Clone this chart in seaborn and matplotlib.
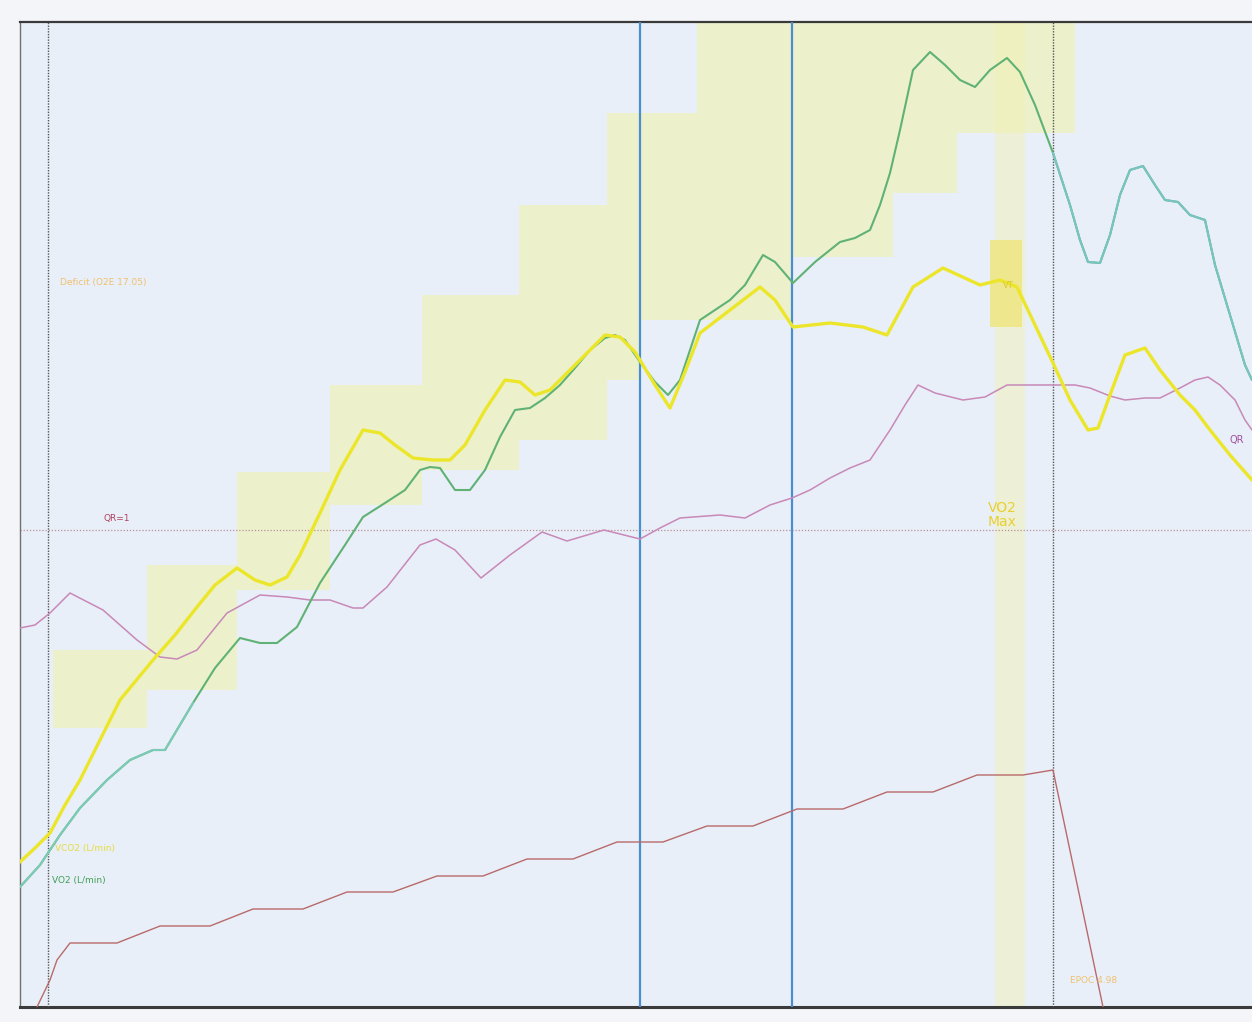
import numpy as np
import pandas as pd
import matplotlib
matplotlib.use("Agg")
import matplotlib.pyplot as plt
import seaborn as sns

# ---------------- data (time in s, signals in chart units) ----------------
vo2_t = [0, 20, 40, 60, 87, 110, 133, 145, 173, 195, 220, 240, 257, 277, 300, 325, 343, 365,
         385, 400, 410, 420, 435, 450, 465, 480, 495, 510, 525, 540, 555, 570, 585, 595, 605,
         620, 635, 648, 660, 680, 710, 725, 743, 755, 773, 795, 820, 835, 850, 860, 870, 880,
         893, 910, 925, 940, 955, 970, 987, 1000, 1015, 1033, 1050, 1060, 1068, 1080, 1090,
         1100, 1110, 1123, 1135, 1145, 1158, 1170, 1185, 1195, 1210, 1225, 1232]
vo2_v = [120, 142, 172, 199, 227, 247, 257, 257, 304, 339, 369, 364, 364, 380, 424, 462, 490, 504,
         517, 537, 540, 539, 517, 517, 537, 570, 597, 599, 609, 622, 639, 657, 669, 672, 667,
         645, 625, 612, 627, 687, 707, 722, 752, 745, 724, 745, 765, 769, 777, 802, 834, 877,
         937, 955, 942, 927, 920, 937, 949, 935, 902, 854, 802, 767, 745, 744, 772,
         812, 837, 841, 822, 807, 805, 792, 787, 742, 692, 642, 627]

vco2_t = [0, 15, 30, 45, 60, 80, 100, 133, 155, 177, 195, 217, 235, 250, 267, 280, 300, 320, 343,
          360, 375, 393, 413, 430, 445, 465, 485, 500, 515, 530, 545, 565, 585, 600, 615, 635,
          650, 665, 680, 710, 740, 755, 773, 810, 843, 867, 893, 923, 960, 980, 997, 1015,
          1033, 1050, 1068, 1078, 1090, 1105, 1125, 1140, 1160, 1175, 1190, 1210, 1232]
vco2_v = [145, 159, 174, 202, 227, 267, 307, 347, 372, 400, 422, 439, 427, 422, 430, 452, 494, 537, 577,
          574, 562, 549, 547, 547, 562, 597, 627, 625, 612, 617, 632, 652, 672, 670, 655, 622,
          599, 635, 674, 697, 720, 707, 680, 684, 680, 672, 720, 739, 722, 727, 720, 682,
          644, 607, 577, 579, 612, 652, 659, 637, 612, 597, 577, 552, 527]

qr_t = [0, 15, 30, 50, 83, 117, 140, 157, 177, 207, 240, 267, 290, 310, 333, 343, 367, 400, 416,
        435, 461, 490, 522, 547, 584, 620, 640, 660, 700, 725, 750, 772, 790, 810, 830, 850, 870,
        885, 898, 915, 943, 965, 987, 1033, 1055, 1070, 1090, 1105, 1125, 1140, 1160, 1175,
        1188, 1200, 1215, 1225, 1232]
qr_v = [379, 382, 394, 414, 397, 367, 350, 348, 357, 394, 412, 410, 407, 407, 399, 399, 420, 462, 468,
        457, 429, 452, 475, 466, 477, 468, 479, 489, 492, 489, 502, 509, 517, 529, 539, 547, 577,
        602, 622, 614, 607, 610, 622, 622, 622, 619, 611, 607, 609, 609, 619, 627,
        630, 622, 607, 587, 577]

load_t = [17, 30, 37, 50, 97, 140, 190, 233, 283, 327, 373, 417, 463, 507, 553, 597, 643, 687,
          733, 777, 823, 867, 913, 957, 1003, 1033, 1083]
load_v = [0, 27, 47, 64, 64, 81, 81, 98, 98, 115, 115, 131, 131, 148, 148, 165, 165, 181,
          181, 198, 198, 215, 215, 232, 232, 237, 0]

# O2 deficit staircase (stage edges, upper and lower bound per stage)
deficit_edges = [33, 127, 217, 310, 402, 499, 587, 620, 677, 773, 873, 937, 1033, 1055]
deficit_top = [357, 442, 535, 622, 712, 802, 894, 894, 985, 985, 985, 985, 985]
deficit_bottom = [279, 317, 417, 502, 537, 567, 627, 687, 687, 750, 814, 874, 874]

# events
test_start = 28
vt1_time = 620
vt2_time = 772
test_end = 1033
qr_one = 477
vo2max_window = (975, 1005)
vo2max_box = (970, 1002, 680, 767)

labels = {
    "deficit": "Deficit (O2E 17.05)",
    "qr1": "QR=1",
    "vco2": "VCO2 (L/min)",
    "vo2": "VO2 (L/min)",
    "vo2max": "VO2\nMax",
    "epoc": "EPOC 4.98",
    "qr": "QR",
    "vt": "VT",
}

# ---------------- figure ----------------
sns.set_theme(style="white")
plt.rcParams["font.family"] = ["DejaVu Sans"]

fig = plt.figure(figsize=(12.52, 10.22), dpi=100, facecolor="#f3f5f9")
ax = fig.add_axes([20 / 1252, 15 / 1022, 1232 / 1252, 985 / 1022])
ax.set_facecolor("#e9eff8")
ax.set_xlim(0, 1232)
ax.set_ylim(0, 985)

# deficit staircase
xs = np.array(deficit_edges, dtype=float)
tops = np.array(deficit_top + [deficit_top[-1]], dtype=float)
bots = np.array(deficit_bottom + [deficit_bottom[-1]], dtype=float)
ax.fill_between(xs, bots, tops, step="post", color="#eff3b0", alpha=0.6, lw=0, zorder=1)

# VO2 max window
ax.axvspan(*vo2max_window, color="#f2f2b0", alpha=0.45, lw=0, zorder=1)
bx0, bx1, by0, by1 = vo2max_box
ax.fill_between([bx0, bx1], [by0, by0], [by1, by1], color="#f0e680", alpha=0.85, lw=0, zorder=2)

# reference lines
ax.axhline(qr_one, color="#b89098", lw=0.9, ls=(0, (1, 1.5)), zorder=2)
for xv in (test_start, test_end):
    ax.axvline(xv, color="#555555", lw=1.0, ls=(0, (1, 1)), zorder=3)
for xv in (vt1_time, vt2_time):
    ax.axvline(xv, color="#4a8ed0", lw=1.6, zorder=3)

# series
df_load = pd.DataFrame({"t": load_t, "v": load_v})
df_qr = pd.DataFrame({"t": qr_t, "v": qr_v})
df_vco2 = pd.DataFrame({"t": vco2_t, "v": vco2_v})
df_vo2 = pd.DataFrame({"t": vo2_t, "v": vo2_v})

sns.lineplot(data=df_load, x="t", y="v", ax=ax, color="#b86a6a", lw=1.0, estimator=None, sort=False, zorder=4)
sns.lineplot(data=df_qr, x="t", y="v", ax=ax, color="#c888b8", lw=1.1, estimator=None, sort=False, zorder=4)
sns.lineplot(data=df_vo2, x="t", y="v", ax=ax, color="#5fb274", lw=1.5, estimator=None, sort=False, zorder=5)
sns.lineplot(data=df_vo2[df_vo2.t >= test_end], x="t", y="v", ax=ax, color="#78c4c4", lw=1.5,
             estimator=None, sort=False, zorder=5)
sns.lineplot(data=df_vo2[df_vo2.t <= 173], x="t", y="v", ax=ax, color="#7ccab8", lw=1.5,
             estimator=None, sort=False, zorder=5)
sns.lineplot(data=df_vco2, x="t", y="v", ax=ax, color="#ece62a", lw=2.4, estimator=None, sort=False, zorder=6)

# texts
ax.text(40, 724, labels["deficit"], color="#f0c070", fontsize=6.5, va="center", zorder=7)
ax.text(83, 489, labels["qr1"], color="#b04060", fontsize=6.5, va="center", zorder=7)
ax.text(35, 159, labels["vco2"], color="#e6dc40", fontsize=6.5, va="center", zorder=7)
ax.text(32, 127, labels["vo2"], color="#3f9f58", fontsize=6.5, va="center", zorder=7)
ax.text(968, 492, labels["vo2max"], color="#e8d030", fontsize=10, va="center", ha="left",
        linespacing=0.95, zorder=7)
ax.text(1050, 27, labels["epoc"], color="#f0c070", fontsize=6.5, va="center", zorder=7)
ax.text(1210, 567, labels["qr"], color="#a050a0", fontsize=7, va="center", zorder=7)
ax.text(983, 722, labels["vt"], color="#d8c830", fontsize=6, va="center", zorder=7)

ax.set_xlabel("")
ax.set_ylabel("")
ax.set_xticks([])
ax.set_yticks([])
ax.spines["right"].set_visible(False)
ax.spines["top"].set_color("#3a3a3a")
ax.spines["top"].set_linewidth(1.6)
ax.spines["bottom"].set_color("#3a3a3a")
ax.spines["bottom"].set_linewidth(2.2)
ax.spines["left"].set_color("#707070")
ax.spines["left"].set_linewidth(1.0)

fig.savefig("out.png", dpi=100, facecolor=fig.get_facecolor())
